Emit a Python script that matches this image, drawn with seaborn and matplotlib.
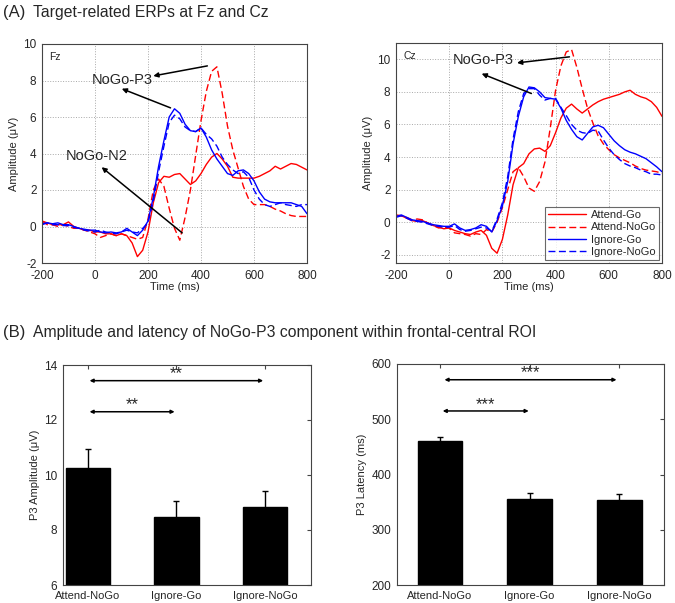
import numpy as np
import pandas as pd
import seaborn as sns
import matplotlib.pyplot as plt

# time axis (ms) and ERP amplitudes (uV), sampled every 20 ms
time_ms = list(range(-200, 801, 20))

fz_attend_go = [0.3, 0.2, 0.1, 0.1, 0.1, 0.25, 0.0, -0.1, -0.2, -0.2, -0.3,
                -0.3, -0.4, -0.4, -0.5, -0.4, -0.5, -0.9, -1.65, -1.3, -0.3,
                1.3, 2.4, 2.75, 2.7, 2.85, 2.9, 2.6, 2.3, 2.5, 2.9,
                3.4, 3.8, 4.0, 3.7, 3.3, 2.7, 2.65, 2.65, 2.65, 2.65,
                2.75, 2.9, 3.05, 3.3, 3.15, 3.3, 3.45, 3.4, 3.25, 3.1]
fz_attend_nogo = [0.3, 0.1, 0.1, 0.0, 0.1, 0.0, -0.1, -0.1, -0.2, -0.3, -0.4,
                  -0.6, -0.5, -0.4, -0.5, -0.4, -0.5, -0.6, -0.7, -0.6, 0.4,
                  2.0, 2.6, 2.2, 1.0, -0.1, -0.75, 0.5, 2.0, 3.9, 5.8,
                  7.4, 8.5, 8.75, 7.3, 5.5, 4.2, 3.2, 2.2, 1.5, 1.2,
                  1.2, 1.2, 1.1, 0.95, 0.85, 0.7, 0.6, 0.55, 0.55, 0.55]
fz_ignore_go = [0.1, 0.2, 0.15, 0.2, 0.1, 0.1, 0.0, -0.1, -0.15, -0.2, -0.2,
                -0.3, -0.35, -0.3, -0.35, -0.3, -0.1, -0.3, -0.5, -0.2, 0.3,
                1.6, 3.3, 4.7, 6.0, 6.45, 6.2, 5.6, 5.25, 5.2, 5.4,
                4.9, 4.2, 3.7, 3.3, 2.9, 2.8, 3.05, 3.1, 2.9, 2.5,
                1.9, 1.5, 1.35, 1.3, 1.3, 1.3, 1.3, 1.2, 1.1, 0.7]
fz_ignore_nogo = [0.15, 0.2, 0.1, 0.1, 0.05, 0.05, -0.05, -0.1, -0.2, -0.25, -0.3,
                  -0.2, -0.3, -0.35, -0.4, -0.3, -0.2, -0.3, -0.35, -0.1, 0.2,
                  1.4, 3.0, 4.4, 5.7, 6.1, 5.9, 5.45, 5.25, 5.2, 5.4,
                  5.05, 4.8, 4.4, 3.8, 3.4, 3.1, 2.9, 3.0, 2.7, 2.0,
                  1.5, 1.2, 1.1, 1.2, 1.3, 1.2, 1.15, 1.1, 1.2, 1.2]

cz_attend_go = [0.4, 0.4, 0.25, 0.1, 0.05, 0.1, -0.05, -0.2, -0.3, -0.4, -0.35,
                -0.5, -0.6, -0.7, -0.75, -0.6, -0.5, -0.8, -1.6, -1.9, -1.05,
                0.45, 2.3, 3.35, 3.6, 4.2, 4.5, 4.55, 4.35, 4.7, 5.5,
                6.4, 7.0, 7.25, 6.95, 6.7, 6.95, 7.2, 7.4, 7.55, 7.65,
                7.75, 7.85, 8.0, 8.1, 7.85, 7.7, 7.6, 7.4, 7.05, 6.5]
cz_attend_nogo = [0.45, 0.4, 0.3, 0.15, 0.2, 0.15, -0.05, -0.2, -0.35, -0.3, -0.35,
                  -0.65, -0.7, -0.75, -0.85, -0.7, -0.75, -0.45, -0.6, 0.0, 0.9,
                  2.0, 3.1, 3.35, 2.8, 2.1, 1.9, 2.5, 3.7, 5.8, 8.1,
                  9.6, 10.45, 10.6, 9.5, 8.2, 7.0, 6.1, 5.3, 4.8, 4.45,
                  4.15, 3.95, 3.8, 3.65, 3.45, 3.3, 3.2, 3.15, 3.1, 3.0]
cz_ignore_go = [0.35, 0.45, 0.3, 0.15, 0.1, 0.05, -0.05, -0.15, -0.2, -0.25, -0.25,
                -0.1, -0.35, -0.5, -0.45, -0.35, -0.15, -0.25, -0.6, 0.1, 1.0,
                2.5, 4.8, 6.5, 7.7, 8.3, 8.25, 8.0, 7.65, 7.6, 7.55,
                7.0, 6.25, 5.7, 5.25, 5.05, 5.45, 5.85, 5.95, 5.8, 5.4,
                5.0, 4.7, 4.45, 4.3, 4.2, 4.05, 3.9, 3.65, 3.4, 3.1]
cz_ignore_nogo = [0.3, 0.4, 0.25, 0.1, 0.05, 0.0, -0.1, -0.2, -0.25, -0.3, -0.3,
                  -0.2, -0.45, -0.55, -0.5, -0.4, -0.3, -0.35, -0.55, 0.2, 1.2,
                  2.8, 5.1, 6.8, 7.9, 8.2, 8.2, 7.8, 7.5, 7.6, 7.6,
                  7.05, 6.55, 6.0, 5.65, 5.5, 5.45, 5.65, 5.6, 5.05, 4.55,
                  4.15, 3.85, 3.6, 3.45, 3.35, 3.2, 3.1, 2.95, 2.95, 2.9]

conditions = ['Attend-Go', 'Attend-NoGo', 'Ignore-Go', 'Ignore-NoGo']
cond_colors = ['red', 'red', 'blue', 'blue']
cond_dashed = [False, True, False, True]

# NoGo-P3 bar data
bar_labels = ['Attend-NoGo', 'Ignore-Go', 'Ignore-NoGo']
p3_amplitude = [10.24, 8.48, 8.84]
p3_amplitude_se = [0.69, 0.56, 0.58]
p3_latency = [461, 355, 353]
p3_latency_se = [7, 11, 11]

sns.set_style('white')
plt.rcParams['font.family'] = ['Liberation Sans', 'DejaVu Sans']
plt.rcParams['axes.unicode_minus'] = False
plt.rcParams['axes.edgecolor'] = '#444444'
plt.rcParams['axes.linewidth'] = 0.8
plt.rcParams['xtick.direction'] = 'in'
plt.rcParams['ytick.direction'] = 'in'

W, H = 675, 603
fig = plt.figure(figsize=(W / 100, H / 100), dpi=100)


def px_axes(left, top, right, bottom):
    return fig.add_axes([left / W, 1 - bottom / H, (right - left) / W, (bottom - top) / H])


def erp_panel(ax, series, label, ylim, label_y):
    for vals, name, col, dashed in zip(series, conditions, cond_colors, cond_dashed):
        sns.lineplot(x=time_ms, y=vals, ax=ax, color=col, lw=1.0, label=name,
                     linestyle='--' if dashed else '-')
    for line in ax.get_lines():
        if line.get_linestyle() == '--':
            line.set_dashes((5, 2.5))
    ax.set_xlim(-200, 800)
    ax.set_ylim(*ylim)
    ax.set_xticks(range(-200, 801, 200))
    ax.set_yticks(range(-2, 11, 2))
    ax.grid(True, ls=':', color='#a8a8a8', lw=0.7)
    ax.tick_params(axis='x', labelsize=8.5, length=0, pad=5)
    ax.tick_params(axis='y', labelsize=8.5, length=0, pad=4)
    ax.set_xlabel('Time (ms)', fontsize=8, labelpad=0)
    ax.set_ylabel('Amplitude (\u03bcV)', fontsize=8, labelpad=3)
    ax.text(-172, label_y, label, fontsize=7.5, ha='left', va='center')


def arrow(ax, tail, head):
    ax.annotate('', xy=head, xytext=tail,
                arrowprops=dict(arrowstyle='-|>', color='black', lw=1.1,
                                mutation_scale=7, shrinkA=0, shrinkB=0))


# (A) ERP waveforms
ax1 = px_axes(42, 44, 307, 263)
erp_panel(ax1, [fz_attend_go, fz_attend_nogo, fz_ignore_go, fz_ignore_nogo], 'Fz', (-2, 10), 9.3)
ax1.get_legend().remove()
ax1.text(101, 8.0, 'NoGo-P3', fontsize=10.5, ha='center', va='center')
arrow(ax1, (424, 8.8), (220, 8.25))
arrow(ax1, (285, 6.5), (101, 7.55))
ax1.text(5, 3.85, 'NoGo-N2', fontsize=10.5, ha='center', va='center')
arrow(ax1, (329, -0.35), (25, 3.25))

ax2 = px_axes(396, 43, 662, 263)
erp_panel(ax2, [cz_attend_go, cz_attend_nogo, cz_ignore_go, cz_ignore_nogo], 'Cz', (-2.5, 11), 10.2)
ax2.text(128, 9.95, 'NoGo-P3', fontsize=10.5, ha='center', va='center')
arrow(ax2, (452, 10.15), (255, 9.78))
arrow(ax2, (309, 7.9), (122, 9.12))
leg = ax2.legend(loc='lower right', fontsize=8, frameon=True, fancybox=False,
                 edgecolor='#444444', handlelength=3.4, handletextpad=0.4,
                 borderpad=0.3, labelspacing=0.2, borderaxespad=0.25)
leg.get_frame().set_linewidth(0.8)

fig.text(3 / W, 1 - 13 / H, '(A)', fontsize=12, va='center', ha='left')
fig.text(33 / W, 1 - 13 / H, 'Target-related ERPs at Fz and Cz', fontsize=11.3, va='center', ha='left')
fig.text(3 / W, 1 - 332 / H, '(B)', fontsize=12, va='center', ha='left')
fig.text(33 / W, 1 - 332 / H, 'Amplitude and latency of NoGo-P3 component within frontal-central ROI',
         fontsize=11.3, va='center', ha='left')


# (B) bar charts
def bar_panel(ax, vals, errs, ylim, yticks, ylabel, xlim, sig):
    df = pd.DataFrame({'cond': bar_labels, 'val': vals})
    sns.barplot(data=df, x='cond', y='val', ax=ax, color='black', width=0.5,
                saturation=1, errorbar=None, edgecolor='black')
    ax.errorbar(range(len(vals)), vals, yerr=errs, fmt='none', ecolor='black',
                elinewidth=1.0, capsize=2.5, capthick=1.0)
    ax.set_ylim(*ylim)
    ax.set_yticks(yticks)
    ax.set_xlim(*xlim)
    ax.set_xlabel('')
    ax.set_ylabel(ylabel, fontsize=8, labelpad=3)
    ax.tick_params(labelsize=8.5, length=3, top=True, right=True, color='#444444')
    ax.tick_params(axis='x', labelsize=8, pad=4)
    ax.tick_params(axis='y', pad=4)
    for x0, x1, y, ty, stars in sig:
        ax.annotate('', xy=(x1, y), xytext=(x0, y),
                    arrowprops=dict(arrowstyle='<|-|>', color='black', lw=1.1,
                                    mutation_scale=5, shrinkA=0, shrinkB=0))
        ax.text((x0 + x1) / 2, ty, stars, fontsize=12, ha='center', va='center')


ax3 = px_axes(63, 365, 311, 585)
bar_panel(ax3, p3_amplitude, p3_amplitude_se, (6, 14), range(6, 15, 2),
          'P3 Amplitude (\u03bcV)', (-0.28, 2.52),
          [(0.02, 1.98, 13.43, 13.68, '**'), (0.02, 0.98, 12.3, 12.55, '**')])

ax4 = px_axes(397, 364, 664, 585)
bar_panel(ax4, p3_latency, p3_latency_se, (200, 600), range(200, 601, 100),
          'P3 Latency (ms)', (-0.48, 2.5),
          [(0.05, 1.97, 571.5, 584, '***'), (0.03, 0.99, 515, 527, '***')])

fig.savefig('out.png', dpi=100)
